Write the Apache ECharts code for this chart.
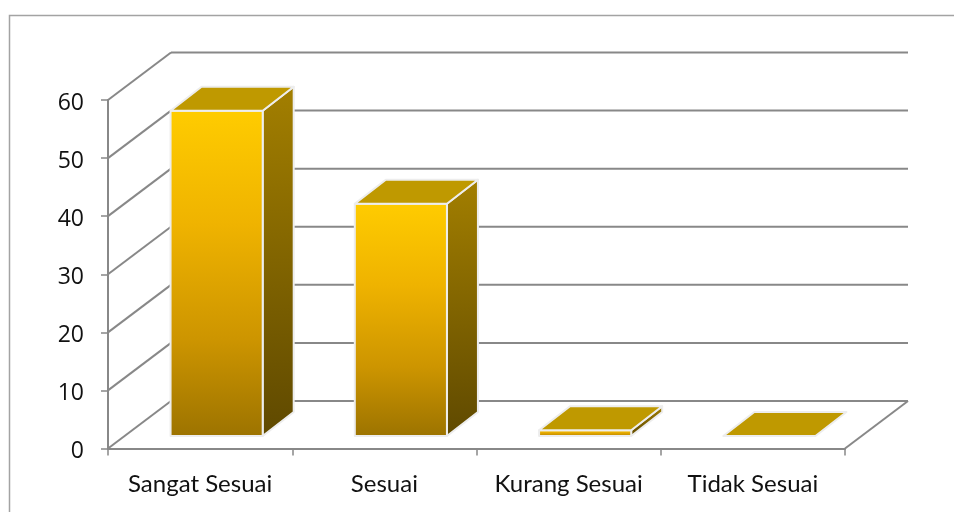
<!DOCTYPE html>
<html>
<head>
<meta charset="utf-8">
<style>html,body{margin:0;padding:0;background:#fff}#chart{width:954px;height:512px}</style>
<script src="https://cdn.jsdelivr.net/npm/echarts@6/dist/echarts.min.js"></script>
</head>
<body>
<div id="chart"></div>
<script>
// Survey result categories and their counts
const categories = ['Sangat Sesuai', 'Sesuai', 'Kurang Sesuai', 'Tidak Sesuai'];
const values = [56, 40, 1, 0];
const yTicks = [0, 10, 20, 30, 40, 50, 60];

// Oblique projection: how far the back wall sits from the front plane,
// and how far into that depth each column stands.
const wallDepth = { x: 63, y: -47.5 };
const barInset = { x: 16.5, y: -12.5 };
const barDepth = { x: 31, y: -24 };
const barBandShare = 0.5;

const axisGrey = '#888888';
const edgeColor = '#ededed';

function shift(p, d) { return [p[0] + d.x, p[1] + d.y]; }

function renderWallLine(params, api) {
  const cs = params.coordSys;
  const y = api.coord([0, api.value(1)])[1];
  const frontL = [cs.x, y];
  const frontR = [cs.x + cs.width, y];
  const lineStyle = { stroke: axisGrey, lineWidth: 2, fill: null };
  const children = [
    { type: 'line', shape: { x1: frontL[0], y1: y, x2: frontL[0] + wallDepth.x, y2: y + wallDepth.y }, style: lineStyle },
    { type: 'line', shape: { x1: frontL[0] + wallDepth.x, y1: y + wallDepth.y, x2: frontR[0] + wallDepth.x, y2: y + wallDepth.y }, style: lineStyle }
  ];
  if (api.value(1) === 0) {
    children.push({ type: 'line', shape: { x1: frontR[0], y1: y, x2: frontR[0] + wallDepth.x, y2: y + wallDepth.y }, style: lineStyle });
  }
  return { type: 'group', children };
}

function renderColumn(params, api) {
  const idx = api.value(0);
  const top = api.coord([idx, api.value(1)]);
  const base = api.coord([idx, 0]);
  const w = api.size([1, 0])[0] * barBandShare;
  const fl = shift([top[0] - w / 2, base[1]], barInset);
  const fr = shift([top[0] + w / 2, base[1]], barInset);
  const tl = shift([top[0] - w / 2, top[1]], barInset);
  const tr = shift([top[0] + w / 2, top[1]], barInset);
  const tlb = shift(tl, barDepth), trb = shift(tr, barDepth), frb = shift(fr, barDepth);
  const grad = stops => ({
    type: 'linear', x: 0, y: 0, x2: 0, y2: 1,
    colorStops: stops.map(s => ({ offset: s[0], color: s[1] }))
  });
  const frontFill = grad([[0, '#ffcc00'], [0.35, '#efb300'], [0.7, '#cd9500'], [1, '#9c7300']]);
  const sideFill = grad([[0, '#a37f00'], [1, '#5f4900']]);
  const edge = { stroke: edgeColor, lineWidth: 2, lineJoin: 'round' };
  const children = [];
  if (fr[1] - tr[1] > 0.5) {
    children.push({ type: 'polygon', shape: { points: [tr, trb, frb, fr] }, style: Object.assign({ fill: sideFill }, edge) });
    children.push({ type: 'polygon', shape: { points: [tl, tr, fr, fl] }, style: Object.assign({ fill: frontFill }, edge) });
  }
  children.push({ type: 'polygon', shape: { points: [tl, tlb, trb, tr] }, style: Object.assign({ fill: '#bf9900' }, edge) });
  return { type: 'group', children };
}

const chart = echarts.init(document.getElementById('chart'), null, { renderer: 'canvas' });
chart.setOption({
  animation: false,
  backgroundColor: '#fff',
  grid: { left: 108, top: 100, width: 737, height: 348.5 },
  graphic: [{
    type: 'polyline',
    shape: { points: [[9.5, 512], [9.5, 15.5], [954, 15.5]] },
    style: { stroke: '#a3a3a3', lineWidth: 1.5, fill: null },
    silent: true
  }],
  xAxis: {
    type: 'category',
    data: categories,
    boundaryGap: true,
    axisLine: { show: true, lineStyle: { color: axisGrey, width: 2 } },
    axisTick: { show: true, length: 7, lineStyle: { color: axisGrey, width: 1.5 } },
    axisLabel: { color: '#111111', fontFamily: 'Lato', fontSize: 24, margin: 24, interval: 0 }
  },
  yAxis: {
    type: 'value',
    min: 0,
    max: 60,
    interval: 10,
    splitLine: { show: false },
    axisLine: { show: true, lineStyle: { color: axisGrey, width: 2 } },
    axisTick: { show: true, length: 7, lineStyle: { color: axisGrey, width: 1.5 } },
    axisLabel: { color: '#111111', fontFamily: 'Open Sans', fontSize: 23, margin: 24, verticalAlign: 'top', lineHeight: 6 }
  },
  series: [
    {
      type: 'custom',
      name: 'wall',
      z: 1,
      silent: true,
      renderItem: renderWallLine,
      encode: { x: 0, y: 1 },
      data: yTicks.map(v => [0, v])
    },
    {
      type: 'custom',
      name: 'Jumlah',
      z: 3,
      renderItem: renderColumn,
      encode: { x: 0, y: 1 },
      data: values.map((v, i) => [i, v])
    }
  ]
});
</script>
</body>
</html>
